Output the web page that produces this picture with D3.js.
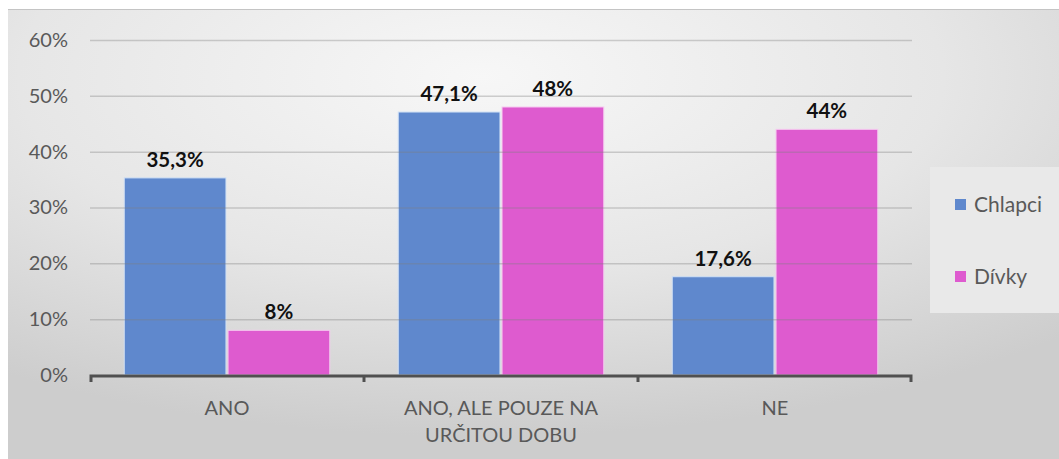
<!DOCTYPE html>
<html><head><meta charset="utf-8">
<script src="https://cdn.jsdelivr.net/npm/d3@7"></script>
<style>body{margin:0;background:#fff;overflow:hidden}svg{display:block}</style>
</head><body>
<svg id="c" width="1059" height="459"></svg>
<script>
const categories = [["ANO"], ["ANO, ALE POUZE NA", "URČITOU DOBU"], ["NE"]];
const seriesNames = ["Chlapci", "Dívky"];
const chlapci = [0.353, 0.471, 0.176];
const divky = [0.08, 0.48, 0.44];
const labelsChlapci = ["35,3%", "47,1%", "17,6%"];
const labelsDivky = ["8%", "48%", "44%"];
const yTicks = [0, 0.1, 0.2, 0.3, 0.4, 0.5, 0.6];
const colors = ["#5f88cd", "#de5bcf"];

const font = "Lato, 'Open Sans', sans-serif";
const svg = d3.select("#c");
const defs = svg.append("defs");
const rg = defs.append("radialGradient").attr("id", "bg")
  .attr("cx", "45%").attr("cy", "15%").attr("r", "80%")
  .attr("gradientUnits", "objectBoundingBox");
rg.append("stop").attr("offset", "0%").attr("stop-color", "#f7f7f7");
rg.append("stop").attr("offset", "55%").attr("stop-color", "#e6e6e6");
rg.append("stop").attr("offset", "100%").attr("stop-color", "#cdcdcd");
svg.append("rect").attr("x", 8).attr("y", 9).attr("width", 1051).attr("height", 450).attr("fill", "url(#bg)");
svg.append("line").attr("x1", 8).attr("x2", 1059).attr("y1", 9.5).attr("y2", 9.5).attr("stroke", "#c4c4c4");

const x0 = d3.scaleBand().domain(d3.range(categories.length)).range([90, 912]).paddingInner(0).paddingOuter(0);
const x1 = d3.scaleBand().domain(seriesNames).range([0, x0.bandwidth()]).paddingInner(0.02).paddingOuter(0.33);
const y = d3.scaleLinear().domain([0, 0.6]).range([375, 40]);

// bars
const g = svg.append("g");
const data = categories.map((c, i) => [chlapci[i], divky[i]]);
const labels = categories.map((c, i) => [labelsChlapci[i], labelsDivky[i]]);
data.forEach((vals, i) => {
  vals.forEach((v, j) => {
    g.append("rect")
      .attr("x", x0(i) + x1(seriesNames[j]))
      .attr("y", y(v))
      .attr("width", x1.bandwidth())
      .attr("height", y(0) - y(v))
      .attr("fill", colors[j])
      .attr("stroke", j === 0 ? "#cfe0f5" : "#f5c8ef").attr("stroke-width", 1);
  });
});

// gridlines (drawn over bars, semi-transparent)
svg.append("g").selectAll("line").data(yTicks.filter(t => t > 0)).join("line")
  .attr("x1", 90).attr("x2", 912)
  .attr("y1", d => y(d) + 0.5).attr("y2", d => y(d) + 0.5)
  .attr("stroke", "#7f7f7f").attr("stroke-opacity", 0.35).attr("stroke-width", 1.5);

// value labels
data.forEach((vals, i) => {
  vals.forEach((v, j) => {
    svg.append("text")
      .attr("x", x0(i) + x1(seriesNames[j]) + x1.bandwidth() / 2)
      .attr("y", y(v) - 11)
      .attr("text-anchor", "middle")
      .attr("font-family", font).attr("font-weight", "bold").attr("font-size", 20.5)
      .attr("fill", "#111").text(labels[i][j]);
  });
});

// y axis labels
const yAxis = d3.axisLeft(y).tickValues(yTicks).tickFormat(d3.format(".0%")).tickSize(0).tickPadding(22);
const ya = svg.append("g").attr("transform", "translate(90,0)").call(yAxis);
ya.select(".domain").remove();
ya.selectAll("text").attr("font-family", font).attr("font-size", 20).attr("fill", "#595959");

// x axis
const xa = svg.append("g").attr("transform", "translate(0,376)");
xa.append("path").attr("d", "M91,6V0H911V6")
  .attr("fill", "none").attr("stroke", "#505050").attr("stroke-width", 3);
x0.domain().slice(1).forEach(i => {
  xa.append("line").attr("x1", x0(i)).attr("x2", x0(i)).attr("y1", 0).attr("y2", 6).attr("stroke", "#505050").attr("stroke-width", 3);
});
categories.forEach((lines, i) => {
  const t = xa.append("text").attr("text-anchor", "middle")
    .attr("font-family", font).attr("font-size", 20).attr("fill", "#595959");
  lines.forEach((l, k) => {
    t.append("tspan").attr("x", x0(i) + x0.bandwidth() / 2).attr("y", 39 + k * 27).text(l);
  });
});

// legend
const lg = svg.append("g");
lg.append("rect").attr("x", 930).attr("y", 167).attr("width", 129).attr("height", 146).attr("fill", "#e9e9e9");
seriesNames.forEach((n, i) => {
  const yy = 205 + i * 72;
  lg.append("rect").attr("x", 955).attr("y", yy - 6).attr("width", 11).attr("height", 11).attr("fill", colors[i]);
  lg.append("text").attr("x", 974).attr("y", yy + 7).attr("font-family", font).attr("font-size", 21).attr("fill", "#595959").text(n);
});
</script>
</body></html>
